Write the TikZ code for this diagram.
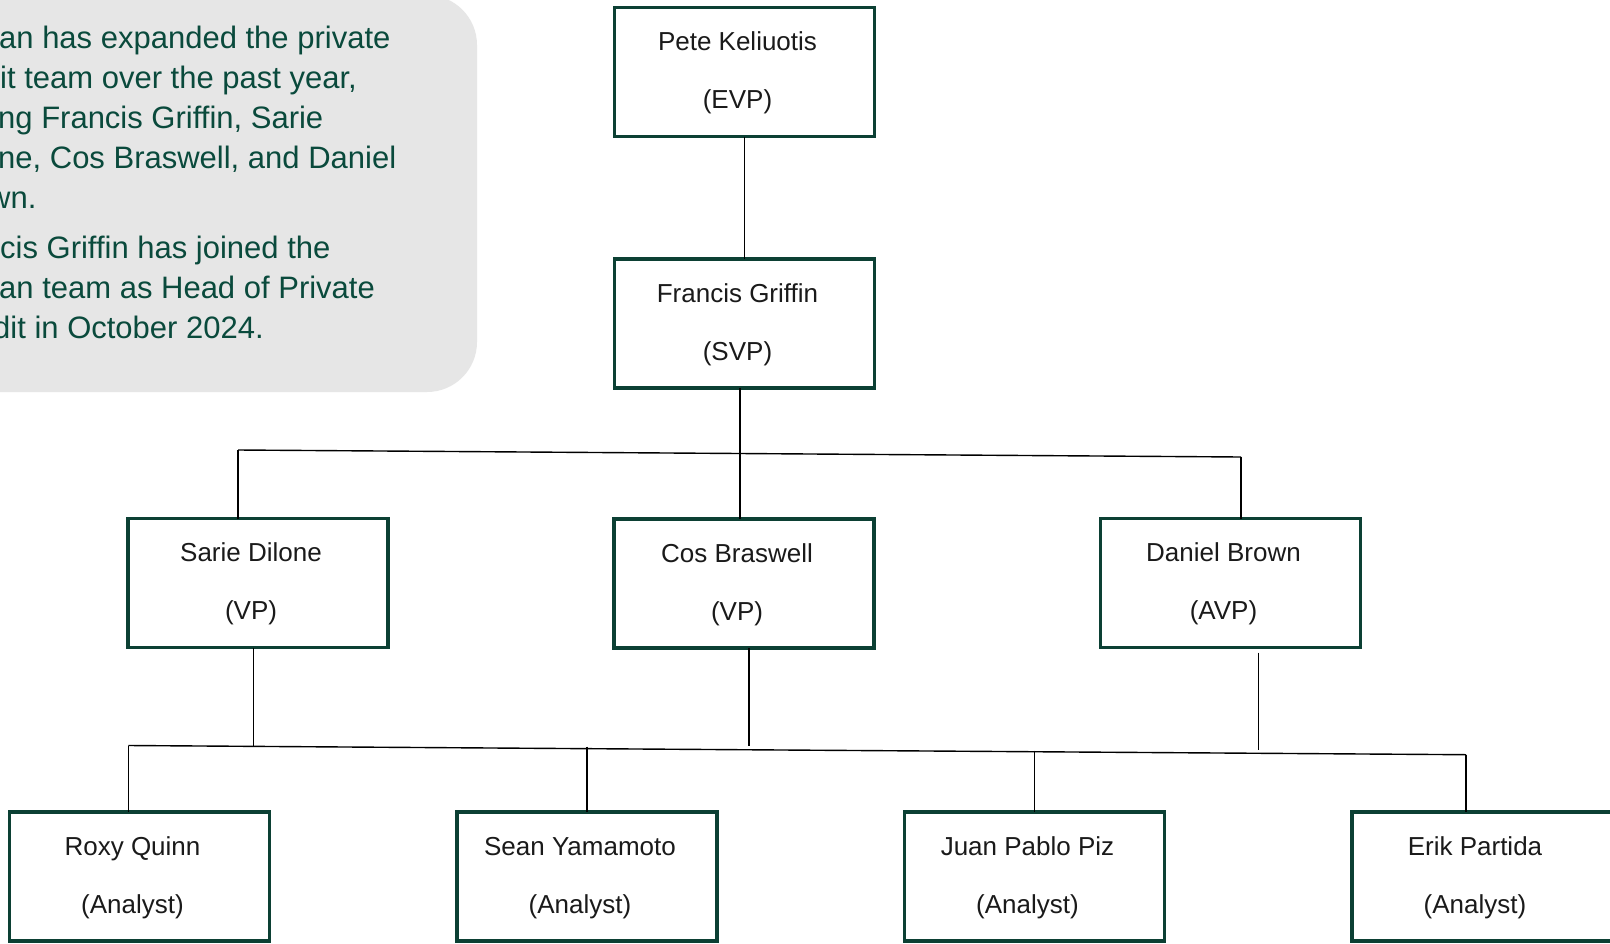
\documentclass[tikz,border=0pt]{standalone}
\usepackage{fontspec}
\setmainfont{Liberation Sans}
\usetikzlibrary{calc}
\definecolor{boxgreen}{HTML}{0C4034}
\definecolor{notegreen}{HTML}{0A4A3C}
\definecolor{notegray}{HTML}{E6E6E6}
\definecolor{nametext}{HTML}{1A1A1A}

\begin{document}
\begin{tikzpicture}[x=1pt,y=-1pt,
  orgbox/.style={draw=boxgreen, line width=3.3pt, minimum width=260pt,
    minimum height=129pt, inner sep=0pt, outer sep=0pt},
  nameline/.style={anchor=base, font=\fontsize{26}{30}\selectfont,
    text=nametext, inner sep=0pt},
  noteline/.style={anchor=base west, font=\fontsize{31}{40}\selectfont,
    text=notegreen, inner sep=0pt},
  link/.style={draw=black, line width=1.4pt}]

\useasboundingbox (0,0) rectangle (1610,943);
\clip (0,0) rectangle (1610,943);
\fill[white] (0,0) rectangle (1610,943);

% note panel at the top left
\fill[notegray, rounded corners=50pt] (-80,-5) rectangle (477,392);
\node[noteline] (note1) at (-1,48)  {an has expanded the private};
\node[noteline] (note2) at (0,88)   {it team over the past year,};
\node[noteline] (note3) at (-2,128) {ng Francis Griffin, Sarie};
\node[noteline] (note4) at (-2,168) {ne, Cos Braswell, and Daniel};
\node[noteline] (note5) at (-12,208) {wn.};
\node[noteline] (note6) at (0,258)  {cis Griffin has joined the};
\node[noteline] (note7) at (-1,298) {an team as Head of Private};
\node[noteline] (note8) at (-7,338) {dit in October 2024.};

% org chart boxes
\node[orgbox] (pete)    at (744.5,72)    {};
\node[orgbox] (francis) at (744.5,323.5) {};
\node[orgbox] (sarie)   at (258,583)     {};
\node[orgbox] (cos)     at (744,583.5)   {};
\node[orgbox] (daniel)  at (1230.5,583)  {};
\node[orgbox] (roxy)    at (139.5,876.5) {};
\node[orgbox] (sean)    at (587,876.5)   {};
\node[orgbox] (juan)    at (1034.5,876.5){};
\node[orgbox] (erik)    at (1482,876.5)  {};

% names and titles
\foreach \b/\n/\t in {pete/Pete Keliuotis/EVP, francis/Francis Griffin/SVP,
    sarie/Sarie Dilone/VP, cos/Cos Braswell/VP, daniel/Daniel Brown/AVP,
    roxy/Roxy Quinn/Analyst, sean/Sean Yamamoto/Analyst,
    juan/Juan Pablo Piz/Analyst, erik/Erik Partida/Analyst}{
  \node[nameline] (\b-name)  at ($(\b.center)+(-7,-21.5)$) {\n};
  \node[nameline] (\b-title) at ($(\b.center)+(-7,36.5)$) {(\t)};
}

% upper connectors
\coordinate (busA-l) at (238,450);
\coordinate (busA-r) at (1241,457);
\draw[link] (pete.south) -- (francis.north);
\draw[link] ([xshift=-4.5pt]francis.south) -- ([xshift=-4pt]cos.north);
\draw[link] (busA-l) -- (busA-r);
\draw[link] (busA-l) -- (busA-l |- sarie.north);
\draw[link] (busA-r) -- (busA-r |- daniel.north);

% lower connectors
\coordinate (busB-l) at (128.3,745.5);
\coordinate (busB-r) at (1466,754.7);
\coordinate (sarie-j) at (253.3,746.7);
\coordinate (cos-j) at (749,745.7);
\coordinate (daniel-j) at (1258.3,750);
\coordinate (sean-j) at (587,746.7);
\coordinate (juan-j) at (1034.3,750.7);
\draw[link] (busB-l) -- (busB-r);
\draw[link] (sarie.south -| sarie-j) -- (sarie-j);
\draw[link] (cos.south -| cos-j) -- (cos-j);
\draw[link] (daniel.south -| daniel-j) ++(0,5) -- (daniel-j);
\draw[link] (busB-l) -- (busB-l |- roxy.north);
\draw[link] (sean-j) -- (sean-j |- sean.north);
\draw[link] (juan-j) -- (juan-j |- juan.north);
\draw[link] (busB-r) -- (busB-r |- erik.north);
\end{tikzpicture}
\end{document}
